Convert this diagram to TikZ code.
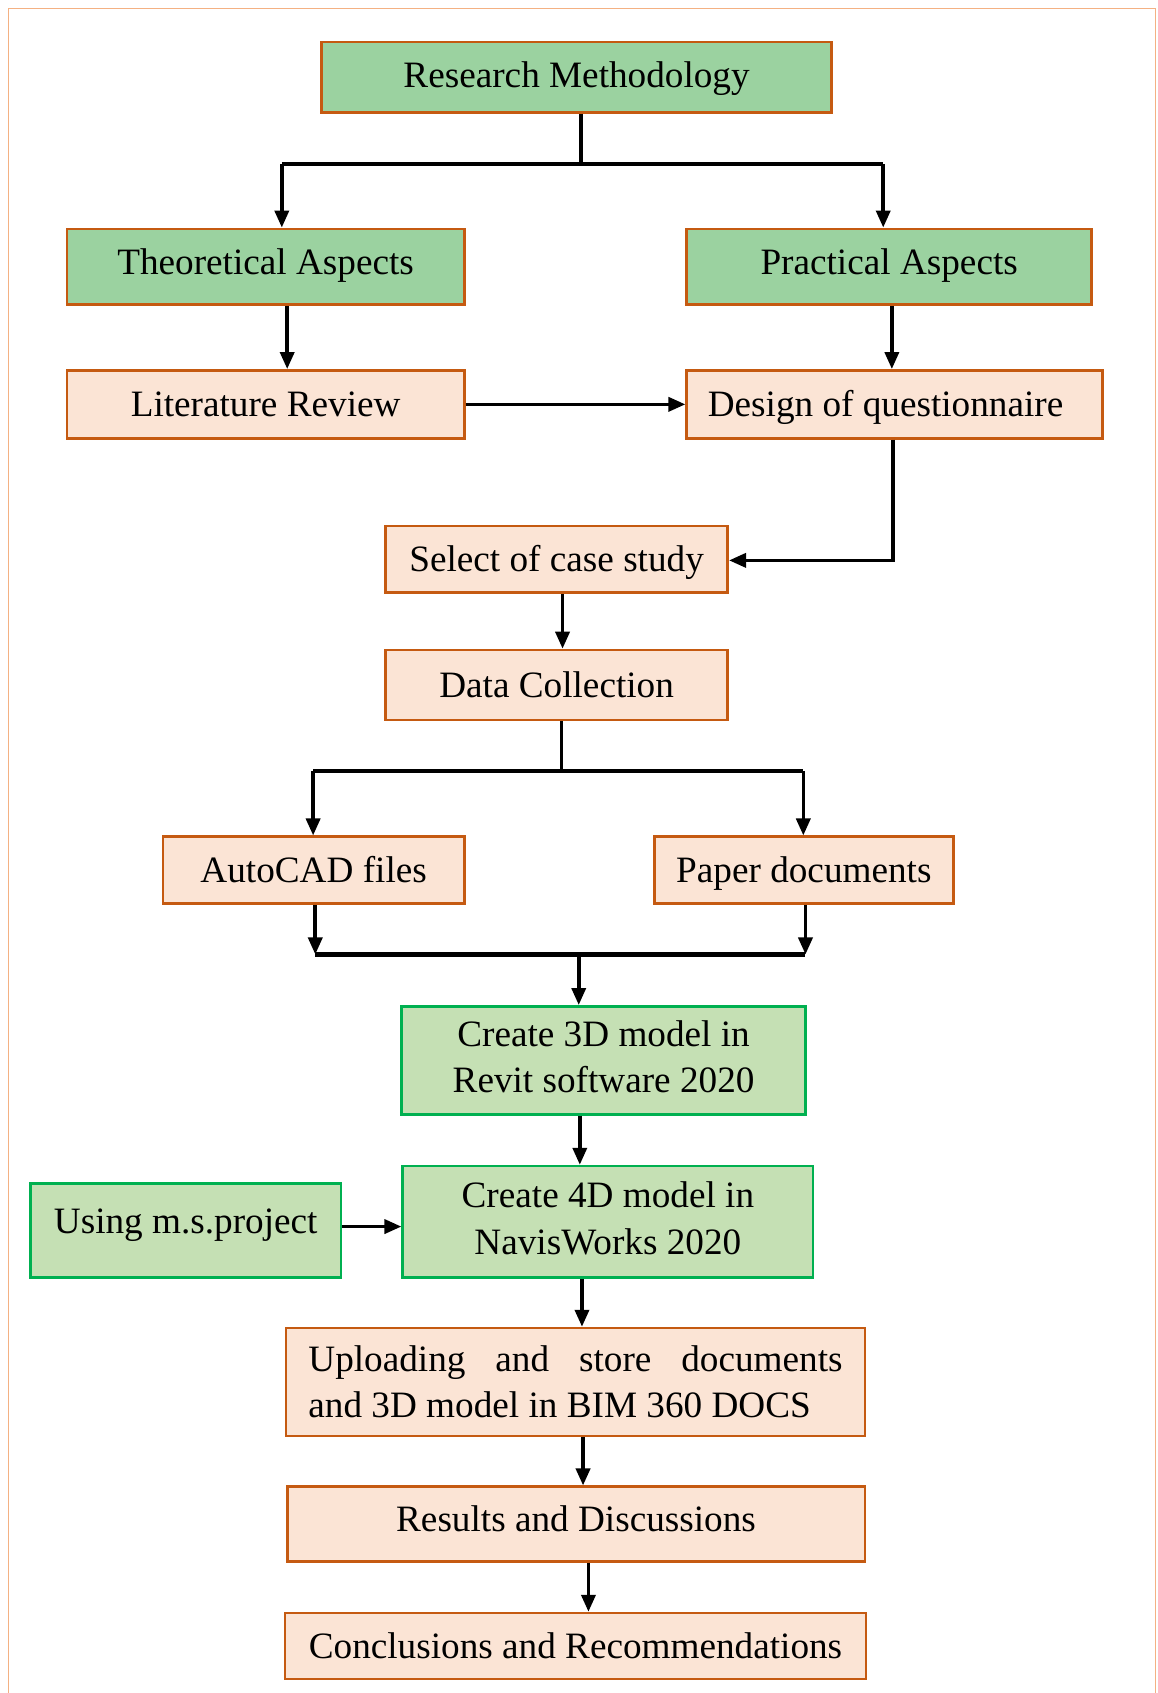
\documentclass[tikz,border=0pt]{standalone}
\usepackage{fontspec}
\setmainfont{Liberation Serif}
\usetikzlibrary{arrows.meta}
\definecolor{gfill}{RGB}{155,210,160}
\definecolor{lgfill}{RGB}{197,224,180}
\definecolor{gline}{RGB}{0,176,80}
\definecolor{pfill}{RGB}{251,228,213}
\definecolor{oline}{RGB}{197,90,17}
\definecolor{frame}{RGB}{244,177,131}
\newcommand\mystrut{\rule[-4.5pt]{0pt}{21.5pt}}
\newcommand\twolines[3]{\raisebox{#1}{\begin{tabular}{@{}c@{}}#2\\#3\end{tabular}}}
\tikzset{
  base/.style={inner sep=0pt, line width=1.3pt, font=\fontsize{18.6}{23.2}\selectfont, align=center,
    execute at begin node=\mystrut, execute at end node=\mystrut},
  gbox/.style={base, draw=oline, fill=gfill},
  pbox/.style={base, draw=oline, fill=pfill},
  lbox/.style={base, draw=gline, fill=lgfill},
  conn/.style={line width=1.8pt, draw=black},
  arr/.style={conn, -{Triangle[length=8.5pt,width=7pt]}},
  bar/.style={line width=2.2pt, draw=black},
}
\newcommand\bx[7]{\node[#1, minimum width={(#5-#3)*0.53965pt}, minimum height={(#6-#4)*0.53965pt}] (#2) at ({(#3+#5)/2},{(#4+#6)/2}) {#7};}
\begin{document}
\begin{tikzpicture}[x=0.53965pt, y=-0.53965pt]
\useasboundingbox (0,0) rectangle (1072,1568);
\draw[frame, line width=0.8pt] (8,1568) -- (8,8) -- (1070,8) -- (1070,1568);

% nodes
\bx{gbox}{rm}{298}{39}{770}{104}{\raisebox{1pt}{Research Methodology}}
\bx{gbox}{ta}{62}{212}{430}{282}{\raisebox{2.2pt}{Theoretical Aspects}}
\bx{gbox}{pa}{636}{212}{1011}{282}{\raisebox{2.2pt}{Practical Aspects}}
\bx{pbox}{lr}{62}{343}{430}{406}{Literature Review}
\bx{pbox}{dq}{636}{343}{1021}{406}{Design of questionnaire\hspace*{9pt}}
\bx{pbox}{sc}{357}{487}{674}{549}{Select of case study}
\bx{pbox}{dc}{357}{602}{674}{667}{Data Collection}
\bx{pbox}{ac}{151}{775}{430}{837}{AutoCAD files}
\bx{pbox}{pd}{606}{775}{883}{837}{Paper documents}
\bx{lbox}{m3}{372}{932}{746}{1032}{\twolines{-4.8pt}{Create 3D model in}{Revit software 2020}}
\bx{lbox}{ms}{28}{1096}{316}{1183}{\raisebox{5.1pt}{Using m.s.project}}
\bx{lbox}{m4}{373}{1080}{753}{1183}{\twolines{-2.9pt}{Create 4D model in}{NavisWorks 2020}}
\bx{pbox}{up}{265}{1230}{801}{1330}{\raisebox{-1.6pt}{\parbox{267pt}{\raggedright Uploading\hfill and\hfill store\hfill documents\\and 3D model in BIM 360 DOCS}}}
\bx{pbox}{rd}{266}{1377}{801}{1446}{\raisebox{2.4pt}{Results and Discussions}}
\bx{pbox}{cr}{264}{1494}{802}{1555}{Conclusions and Recommendations}

% junction coordinates
\coordinate (j1l) at (261,152);
\coordinate (j1r) at (818,152);
\coordinate (j2) at (827,519);
\coordinate (j3l) at (290,714);
\coordinate (j3r) at (744,714);
\coordinate (j4l) at (292,884);
\coordinate (j4r) at (746,884);
\coordinate (j4m) at (536,884);

% connectors
\draw[conn] (rm.south -| 538,0) -- (538,152);
\draw[bar] (j1l) -- (j1r);
\draw[arr] (j1l) -- (j1l |- ta.north);
\draw[arr] (j1r) -- (j1r |- pa.north);
\draw[arr] (ta.south -| 266,0) -- (lr.north -| 266,0);
\draw[arr] (pa.south -| 826,0) -- (dq.north -| 826,0);
\draw[arr] (lr.east) -- (dq.west);
\draw[arr] (dq.south -| j2) -- (j2) -- (sc.east |- j2);
\draw[arr] (sc.south -| 521,0) -- (dc.north -| 521,0);
\draw[conn] (dc.south -| 520,0) -- (520,714);
\draw[bar] (j3l) -- (j3r);
\draw[arr] (j3l) -- (j3l |- ac.north);
\draw[arr] (j3r) -- (j3r |- pd.north);
\draw[arr] (ac.south -| j4l) -- (j4l);
\draw[arr] (pd.south -| j4r) -- (j4r);
\draw[bar, line width=2.6pt] (j4l) -- (j4r);
\draw[arr] (j4m) -- (j4m |- m3.north);
\draw[arr] (m3.south -| 537,0) -- (m4.north -| 537,0);
\draw[arr] (ms.east |- 0,1136) -- (m4.west |- 0,1136);
\draw[arr] (m4.south -| 539,0) -- (up.north -| 539,0);
\draw[arr] (up.south -| 540,0) -- (rd.north -| 540,0);
\draw[arr] (rd.south -| 545,0) -- (cr.north -| 545,0);
\end{tikzpicture}
\end{document}
